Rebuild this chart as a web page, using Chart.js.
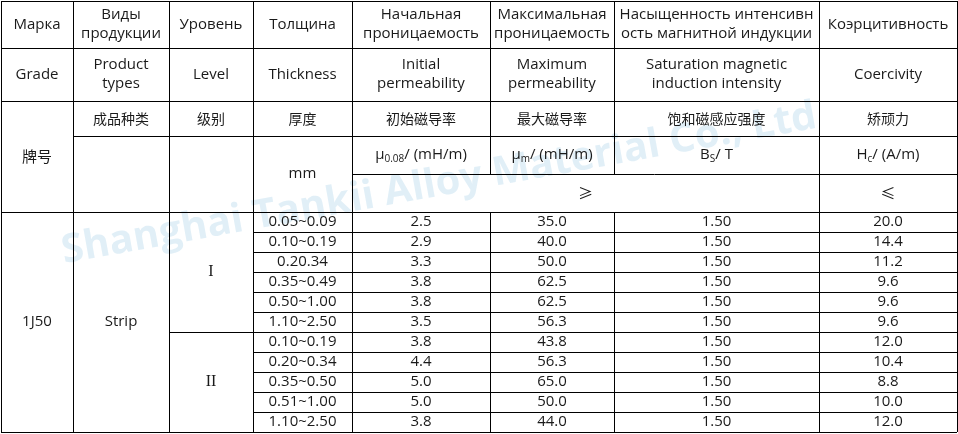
<!DOCTYPE html>
<html>
<head>
<meta charset="utf-8">
<script src="https://cdn.jsdelivr.net/npm/chart.js@4.4.1/dist/chart.umd.min.js"></script>
<style>
  html, body { margin: 0; padding: 0; background: #fff; }
  #wrap { width: 958px; height: 434px; }
</style>
</head>
<body>
<div id="wrap"><canvas id="table" width="958" height="434"></canvas></div>
<script>
// table values
const thickness = ["0.05~0.09", "0.10~0.19", "0.20.34", "0.35~0.49", "0.50~1.00", "1.10~2.50",
                   "0.10~0.19", "0.20~0.34", "0.35~0.50", "0.51~1.00", "1.10~2.50"]
const initialPerm = ["2.5", "2.9", "3.3", "3.8", "3.8", "3.5", "3.8", "4.4", "5.0", "5.0", "3.8"]
const maxPerm = ["35.0", "40.0", "50.0", "62.5", "62.5", "56.3", "43.8", "56.3", "65.0", "50.0", "44.0"]
const saturation = ["1.50", "1.50", "1.50", "1.50", "1.50", "1.50", "1.50", "1.50", "1.50", "1.50", "1.50"]
const coercivity = ["20.0", "14.4", "11.2", "9.6", "9.6", "9.6", "12.0", "10.4", "8.8", "10.0", "12.0"]
const levels = ["I", "II"]
const levelRows = [6, 5]

const headRu = [["Марка"], ["Виды", "продукции"], ["Уровень"], ["Толщина"], ["Начальная", "проницаемость"],
                ["Максимальная", "проницаемость"], ["Насыщенность интенсивн", "ость магнитной индукции"], ["Коэрцитивность"]]
const headEn = [["Grade"], ["Product", "types"], ["Level"], ["Thickness"], ["Initial", "permeability"],
                ["Maximum", "permeability"], ["Saturation magnetic", "induction intensity"], ["Coercivity"]]
const headZh = ["牌号", "成品种类", "级别", "厚度", "初始磁导率", "最大磁导率", "饱和磁感应强度", "矫顽力"]

// layout (grid lines in page units)
const colX = [1, 73, 169, 253, 352, 490, 614, 819, 957]
const headY = [1, 48, 101, 136, 174, 212]
const rowH = 20

const FONT = '"Open Sans", "Noto Sans CJK SC", sans-serif'
const CJK = '"Noto Sans CJK SC", sans-serif'
const INK = "#1a1a1a"

const tablePlugin = {
  id: "tableGrid",
  afterDraw(chart) {
    const { ctx, scales } = chart
    const X = v => scales.x.getPixelForValue(v)
    const Y = v => scales.y.getPixelForValue(v)
    const dataTop = headY[5]
    const rowY = i => dataTop + i * rowH
    const bottom = rowY(thickness.length)

    ctx.save()

    // watermark
    ctx.save()
    ctx.translate(X(62), Y(252))
    ctx.rotate(-0.178)
    ctx.font = 'bold 40px ' + FONT
    ctx.fillStyle = "rgba(120,180,220,0.22)"
    ctx.textBaseline = "middle"
    ctx.fillText("Shanghai Tankii Alloy Material Co., Ltd", 0, 0)
    ctx.restore()

    // lines
    ctx.strokeStyle = "#000"
    ctx.lineWidth = 1
    const h = (x1, x2, y) => { ctx.beginPath(); ctx.moveTo(X(x1), Math.round(Y(y)) + 0.5); ctx.lineTo(X(x2), Math.round(Y(y)) + 0.5); ctx.stroke() }
    const v = (x, y1, y2) => { ctx.beginPath(); ctx.moveTo(Math.round(X(x)) + 0.5, Y(y1)); ctx.lineTo(Math.round(X(x)) + 0.5, Y(y2)); ctx.stroke() }

    h(colX[0], colX[8], headY[0])
    h(colX[0], colX[8], headY[1])
    h(colX[0], colX[8], headY[2])
    h(colX[1], colX[8], headY[3])
    h(colX[4], colX[8], headY[4])
    h(colX[0], colX[8], dataTop)
    for (let i = 1; i < thickness.length; i++) {
      h(i === levelRows[0] ? colX[2] : colX[3], colX[8], rowY(i))
    }
    h(colX[0], colX[8], bottom)
    colX.forEach((x, i) => {
      if (i === 5 || i === 6) {
        v(x, headY[0], headY[4]); v(x, dataTop, bottom)
      } else {
        v(x, headY[0], bottom)
      }
    })

    // text helpers
    ctx.fillStyle = INK
    ctx.textAlign = "center"
    ctx.textBaseline = "middle"
    const mid = (a, b) => (a + b) / 2
    const cellText = (lines, c0, c1, y0, y1, font) => {
      ctx.font = font || ("15px " + FONT)
      const lh = 19
      const cy = mid(Y(y0), Y(y1)) - (lines.length - 1) * lh / 2
      lines.forEach((t, k) => ctx.fillText(t, mid(X(colX[c0]), X(colX[c1])), cy + k * lh))
    }
    const richText = (runs, c0, c1, y0, y1) => {
      ctx.textAlign = "left"
      const widths = runs.map(r => { ctx.font = (r[1] ? "10px " : "15px ") + FONT; return ctx.measureText(r[0]).width })
      let x = mid(X(colX[c0]), X(colX[c1])) - widths.reduce((a, b) => a + b, 0) / 2
      const cy = mid(Y(y0), Y(y1))
      runs.forEach((r, k) => {
        ctx.font = (r[1] ? "10px " : "15px ") + FONT
        ctx.fillText(r[0], x, cy + (r[1] ? 4 : 0))
        x += widths[k]
      })
      ctx.textAlign = "center"
    }

    // header
    for (let c = 0; c < 8; c++) {
      cellText(headRu[c], c, c + 1, headY[0], headY[1])
      cellText(headEn[c], c, c + 1, headY[1], headY[2])
      if (c === 0) cellText([headZh[c]], 0, 1, headY[2], dataTop, "15px " + CJK)
      else cellText([headZh[c]], c, c + 1, headY[2], headY[3], "14px " + CJK)
    }
    cellText(["mm"], 3, 4, headY[3], dataTop)
    richText([["μ", 0], ["0.08", 1], ["/ (mH/m)", 0]], 4, 5, headY[3], headY[4])
    richText([["μ", 0], ["m", 1], ["/ (mH/m)", 0]], 5, 6, headY[3], headY[4])
    richText([["B", 0], ["S", 1], ["/ T", 0]], 6, 7, headY[3], headY[4])
    richText([["H", 0], ["c", 1], ["/ (A/m)", 0]], 7, 8, headY[3], headY[4])
    cellText(["≥"], 4, 7, headY[4], dataTop, "15px " + CJK)
    cellText(["≤"], 7, 8, headY[4], dataTop, "15px " + CJK)

    // body
    cellText(["1J50"], 0, 1, dataTop, bottom)
    cellText(["Strip"], 1, 2, dataTop, bottom)
    let start = 0
    levels.forEach((lv, k) => {
      cellText([lv], 2, 3, rowY(start), rowY(start + levelRows[k]), '16px "Liberation Serif", serif')
      start += levelRows[k]
    })
    const cols = [thickness, initialPerm, maxPerm, saturation, coercivity]
    cols.forEach((arr, j) => {
      arr.forEach((t, i) => cellText([t], 3 + j, 4 + j, rowY(i), rowY(i + 1)))
    })

    ctx.restore()
  }
}

new Chart(document.getElementById("table"), {
  type: "scatter",
  data: { datasets: [{ data: [], pointRadius: 0 }] },
  options: {
    responsive: false,
    animation: false,
    layout: { padding: 0 },
    plugins: { legend: { display: false }, tooltip: { enabled: false } },
    scales: {
      x: { type: "linear", min: 0, max: 958, display: false },
      y: { type: "linear", min: 0, max: 434, reverse: true, display: false }
    }
  },
  plugins: [tablePlugin]
})
</script>
</body>
</html>
